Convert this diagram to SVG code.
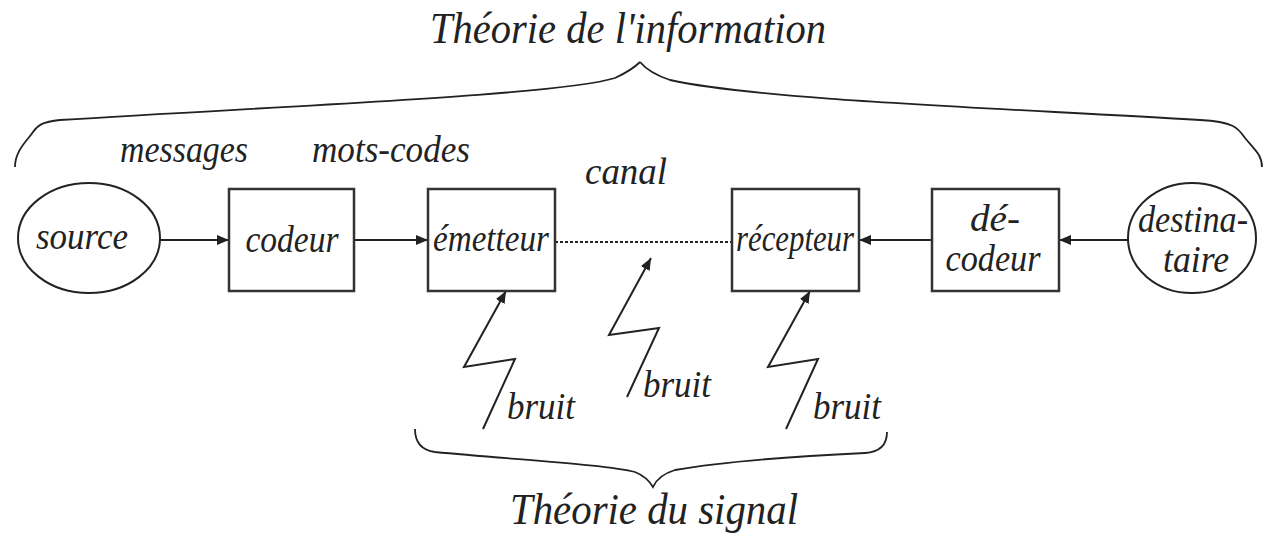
<svg xmlns="http://www.w3.org/2000/svg" width="1273" height="540" viewBox="0 0 1273 540">
<style>
.t{font-family:"Liberation Serif","Times New Roman",serif;font-style:italic;fill:#222;}
.n{font-size:37px;}
.big{font-size:44px;}
.box{fill:#fff;stroke:#333;stroke-width:2.5;}
.ln{fill:none;stroke:#222;stroke-width:2;}
.br{fill:none;stroke:#222;stroke-width:1.8;}
</style>
<defs>
<marker id="ah" markerWidth="13" markerHeight="11" refX="12" refY="5" orient="auto" markerUnits="userSpaceOnUse">
<path d="M0,0 L12,5 L0,10 z" fill="#222"/>
</marker>
</defs>
<rect width="1273" height="540" fill="#fff"/>
<text class="t big" x="628" y="43" text-anchor="middle" textLength="396" lengthAdjust="spacingAndGlyphs">Théorie de l'information</text>
<path class="br" d="M15,167 C15,150 28,140 33,132 C38,125 42,122 60,120 C300,105 560,95 615,78 C628,72 636,66 640,62"/>
<path class="br" d="M640,62 C645,68 655,75 670,80 C760,100 1000,108 1200,120 C1235,122 1238,128 1245,138 C1255,150 1262,155 1262,167"/>
<text class="t n" x="120" y="162" textLength="128" lengthAdjust="spacingAndGlyphs">messages</text>
<text class="t n" x="312" y="162" textLength="158" lengthAdjust="spacingAndGlyphs">mots-codes</text>
<text class="t n" x="585" y="184" textLength="82" lengthAdjust="spacingAndGlyphs">canal</text>
<g id="connectors">
<line class="ln" x1="160" y1="240" x2="229" y2="240" marker-end="url(#ah)"/>
<line class="ln" x1="354" y1="240" x2="428" y2="240" marker-end="url(#ah)"/>
<line class="ln" x1="555" y1="242" x2="733" y2="242" stroke-dasharray="3 2"/>
<line class="ln" x1="932" y1="240" x2="859" y2="240" marker-end="url(#ah)"/>
<line class="ln" x1="1128" y1="240" x2="1059" y2="240" marker-end="url(#ah)"/>
<polyline class="ln" points="483,429 515,359 464,367 506,291" marker-end="url(#ah)"/>
<polyline class="ln" points="627,397 659,328 609,335 651,258" marker-end="url(#ah)"/>
<polyline class="ln" points="786,429 818,359 768,367 810,291" marker-end="url(#ah)"/>
</g>
<g id="source">
<ellipse cx="89" cy="238" rx="71" ry="55" class="ln"/>
<text class="t n" x="82" y="249" text-anchor="middle" textLength="92" lengthAdjust="spacingAndGlyphs">source</text>
</g>
<g id="codeur">
<rect class="box" x="229" y="189" width="125" height="102"/>
<text class="t n" x="292" y="252" text-anchor="middle" textLength="93" lengthAdjust="spacingAndGlyphs">codeur</text>
</g>
<g id="emetteur">
<rect class="box" x="428" y="189" width="127" height="102"/>
<text class="t n" x="491" y="251" text-anchor="middle" textLength="116" lengthAdjust="spacingAndGlyphs">émetteur</text>
</g>
<g id="recepteur">
<rect class="box" x="732" y="189" width="127" height="102"/>
<text class="t n" x="795" y="251" text-anchor="middle" textLength="118" lengthAdjust="spacingAndGlyphs">récepteur</text>
</g>
<g id="decodeur">
<rect class="box" x="932" y="189" width="127" height="102"/>
<text class="t n" x="995" y="231" text-anchor="middle" textLength="50" lengthAdjust="spacingAndGlyphs">dé-</text>
<text class="t n" x="993" y="271" text-anchor="middle" textLength="95" lengthAdjust="spacingAndGlyphs">codeur</text>
</g>
<g id="destinataire">
<ellipse cx="1192" cy="238" rx="64" ry="55" class="ln"/>
<text class="t n" x="1193" y="232" text-anchor="middle" textLength="110" lengthAdjust="spacingAndGlyphs">destina-</text>
<text class="t n" x="1196" y="272" text-anchor="middle" textLength="66" lengthAdjust="spacingAndGlyphs">taire</text>
</g>
<text class="t n" x="507" y="419" textLength="68" lengthAdjust="spacingAndGlyphs">bruit</text>
<text class="t n" x="643" y="397" textLength="68" lengthAdjust="spacingAndGlyphs">bruit</text>
<text class="t n" x="813" y="419" textLength="68" lengthAdjust="spacingAndGlyphs">bruit</text>
<path class="br" d="M415,429 C415,440 420,450 435,452 C520,460 610,465 635,472 C645,476 650,482 653,487 C656,480 662,474 675,470 C720,462 800,456 865,453 C880,452 887,445 887,432"/>
<text class="t big" x="654" y="524" text-anchor="middle" textLength="288" lengthAdjust="spacingAndGlyphs">Théorie du signal</text>
</svg>
